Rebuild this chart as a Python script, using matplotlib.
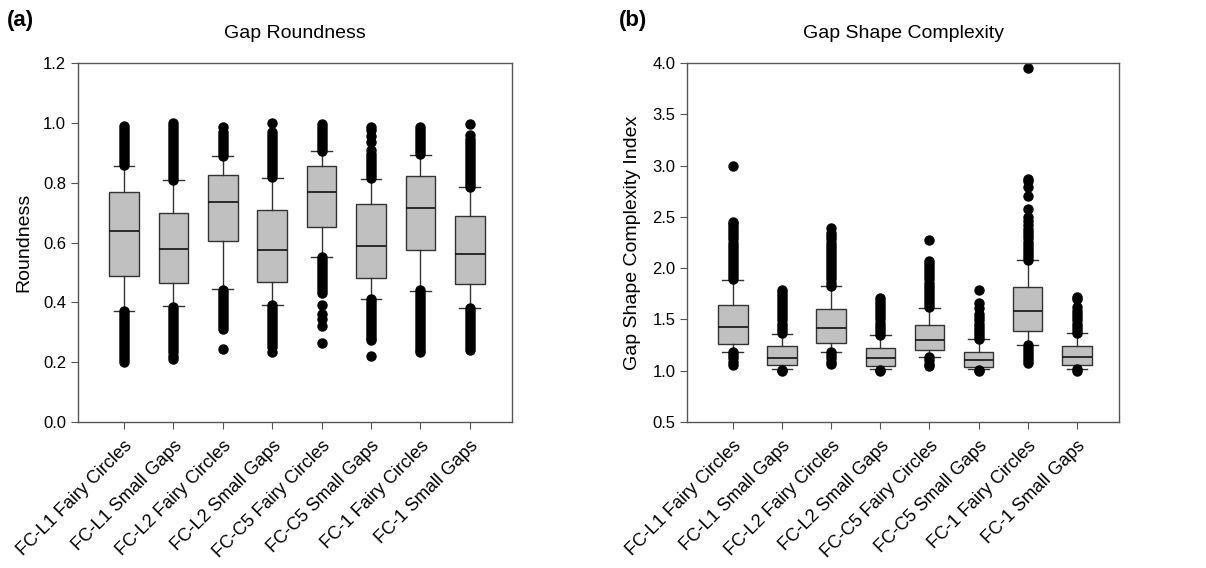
import matplotlib
matplotlib.use("Agg")
import matplotlib.pyplot as plt

plt.rcParams['font.family'] = ['Liberation Sans', 'DejaVu Sans']

labels = ["FC-L1 Fairy Circles", "FC-L1 Small Gaps", "FC-L2 Fairy Circles", "FC-L2 Small Gaps",
          "FC-C5 Fairy Circles", "FC-C5 Small Gaps", "FC-1 Fairy Circles", "FC-1 Small Gaps"]

# Gap Roundness: whisker low, Q1, median, Q3, whisker high
round_wlo = [0.372, 0.387, 0.445, 0.391, 0.550, 0.410, 0.439, 0.380]
round_q1 = [0.487, 0.464, 0.605, 0.468, 0.651, 0.481, 0.574, 0.461]
round_med = [0.640, 0.579, 0.735, 0.574, 0.769, 0.590, 0.715, 0.563]
round_q3 = [0.768, 0.699, 0.825, 0.709, 0.855, 0.729, 0.821, 0.689]
round_whi = [0.857, 0.810, 0.890, 0.816, 0.905, 0.813, 0.894, 0.784]
round_fliers = [
    [0.86, 0.87, 0.88, 0.89, 0.90, 0.91, 0.92, 0.93, 0.94, 0.95, 0.96, 0.97, 0.98, 0.99,
     0.37, 0.36, 0.35, 0.34, 0.33, 0.32, 0.31, 0.30, 0.29, 0.28, 0.27, 0.26, 0.25, 0.24, 0.23, 0.22, 0.21, 0.20],
    [0.81, 0.82, 0.83, 0.84, 0.85, 0.86, 0.87, 0.88, 0.89, 0.90, 0.91, 0.92, 0.93, 0.94, 0.95, 0.96, 0.97, 0.98, 0.99, 1.00,
     0.385, 0.375, 0.365, 0.355, 0.345, 0.335, 0.325, 0.315, 0.305, 0.295, 0.285, 0.275, 0.265, 0.255, 0.245, 0.235, 0.22, 0.212],
    [0.89, 0.90, 0.91, 0.92, 0.93, 0.94, 0.95, 0.96, 0.97, 0.985,
     0.44, 0.43, 0.42, 0.41, 0.40, 0.39, 0.38, 0.37, 0.36, 0.35, 0.34, 0.33, 0.32, 0.31, 0.245],
    [0.82, 0.83, 0.84, 0.85, 0.86, 0.87, 0.88, 0.89, 0.90, 0.91, 0.92, 0.93, 0.94, 0.95, 0.96, 0.97, 1.00,
     0.39, 0.38, 0.37, 0.36, 0.35, 0.34, 0.33, 0.32, 0.31, 0.30, 0.29, 0.28, 0.27, 0.26, 0.25, 0.235],
    [0.905, 0.915, 0.925, 0.935, 0.945, 0.955, 0.965, 0.975, 0.985, 0.995,
     0.55, 0.54, 0.53, 0.52, 0.51, 0.50, 0.49, 0.48, 0.47, 0.46, 0.45, 0.44, 0.43, 0.39, 0.36, 0.345, 0.32, 0.265],
    [0.815, 0.825, 0.835, 0.845, 0.855, 0.865, 0.875, 0.885, 0.895, 0.91, 0.935, 0.955, 0.975, 0.985,
     0.41, 0.40, 0.39, 0.38, 0.37, 0.36, 0.35, 0.34, 0.33, 0.32, 0.31, 0.30, 0.29, 0.28, 0.273, 0.222],
    [0.895, 0.905, 0.915, 0.925, 0.935, 0.945, 0.955, 0.965, 0.975, 0.985,
     0.44, 0.43, 0.42, 0.41, 0.40, 0.39, 0.38, 0.37, 0.36, 0.35, 0.34, 0.33, 0.32, 0.31, 0.30, 0.29, 0.28, 0.27, 0.26, 0.25, 0.24, 0.233],
    [0.785, 0.795, 0.805, 0.815, 0.825, 0.835, 0.845, 0.855, 0.865, 0.875, 0.885, 0.895, 0.905, 0.915, 0.925, 0.935, 0.945, 0.96, 0.997,
     0.38, 0.37, 0.36, 0.35, 0.34, 0.33, 0.32, 0.31, 0.30, 0.29, 0.28, 0.27, 0.26, 0.25, 0.242],
]

# Gap Shape Complexity Index
shape_wlo = [1.184, 1.018, 1.184, 1.015, 1.135, 1.015, 1.249, 1.021]
shape_q1 = [1.259, 1.054, 1.275, 1.044, 1.200, 1.034, 1.383, 1.060]
shape_med = [1.429, 1.126, 1.412, 1.126, 1.302, 1.106, 1.578, 1.135]
shape_q3 = [1.640, 1.240, 1.598, 1.217, 1.445, 1.184, 1.816, 1.240]
shape_whi = [1.885, 1.363, 1.826, 1.344, 1.611, 1.305, 2.077, 1.370]
shape_fliers = [
    [1.89, 1.92, 1.95, 1.98, 2.01, 2.04, 2.07, 2.10, 2.13, 2.16, 2.19, 2.22, 2.25, 2.28, 2.31, 2.34, 2.37, 2.40, 2.43, 2.45, 3.00,
     1.18, 1.15, 1.12, 1.09, 1.06],
    [1.37, 1.40, 1.43, 1.46, 1.49, 1.52, 1.55, 1.58, 1.61, 1.64, 1.67, 1.70, 1.73, 1.76, 1.79,
     1.01, 0.995],
    [1.83, 1.86, 1.89, 1.92, 1.95, 1.98, 2.01, 2.04, 2.07, 2.10, 2.13, 2.16, 2.19, 2.22, 2.25, 2.28, 2.31, 2.34, 2.39,
     1.18, 1.15, 1.12, 1.09, 1.07],
    [1.35, 1.38, 1.41, 1.44, 1.47, 1.50, 1.53, 1.56, 1.59, 1.62, 1.65, 1.68, 1.71,
     1.01, 0.995],
    [1.62, 1.65, 1.68, 1.71, 1.74, 1.77, 1.80, 1.83, 1.86, 1.89, 1.92, 1.95, 1.98, 2.01, 2.04, 2.07, 2.27,
     1.13, 1.10, 1.07, 1.05],
    [1.31, 1.34, 1.37, 1.40, 1.43, 1.46, 1.49, 1.52, 1.55, 1.61, 1.66, 1.79,
     1.01, 0.995],
    [2.08, 2.11, 2.14, 2.17, 2.20, 2.23, 2.26, 2.29, 2.32, 2.35, 2.38, 2.42, 2.46, 2.50, 2.58, 2.70, 2.79, 2.85, 2.87, 3.95,
     1.25, 1.22, 1.19, 1.16, 1.13, 1.10, 1.08],
    [1.37, 1.40, 1.43, 1.46, 1.49, 1.52, 1.55, 1.58, 1.62, 1.70, 1.72,
     1.02, 0.995],
]


def make_stats(wlo, q1, med, q3, whi, fliers):
    return [dict(whislo=a, q1=b, med=c, q3=d, whishi=e, fliers=f)
            for a, b, c, d, e, f in zip(wlo, q1, med, q3, whi, fliers)]


fig = plt.figure(figsize=(12.06, 5.68), dpi=100)
ax1 = fig.add_axes([0.0647, 0.257, 0.36, 0.632])
ax2 = fig.add_axes([0.5697, 0.257, 0.3583, 0.632])

line_col = "#333333"
box_kw = dict(
    widths=0.6, capwidths=0.42, patch_artist=True,
    boxprops=dict(facecolor="#c0c0c0", edgecolor=line_col, linewidth=1.0),
    medianprops=dict(color="#111111", linewidth=1.2),
    whiskerprops=dict(color=line_col, linewidth=1.0),
    capprops=dict(color=line_col, linewidth=1.0),
    flierprops=dict(marker="o", markerfacecolor="black", markeredgecolor="black", markersize=6.5, linestyle="none"),
)

ax1.bxp(make_stats(round_wlo, round_q1, round_med, round_q3, round_whi, round_fliers), **box_kw)
ax2.bxp(make_stats(shape_wlo, shape_q1, shape_med, shape_q3, shape_whi, shape_fliers), **box_kw)

ax1.set_ylim(0, 1.2)
ax1.set_yticks([0.0, 0.2, 0.4, 0.6, 0.8, 1.0, 1.2])
ax1.set_ylabel("Roundness", fontsize=14, labelpad=8)
ax1.set_title("Gap Roundness", fontsize=14, pad=18)

ax2.set_ylim(0.5, 4.0)
ax2.set_yticks([0.5, 1.0, 1.5, 2.0, 2.5, 3.0, 3.5, 4.0])
ax2.set_ylabel("Gap Shape Complexity Index", fontsize=14, labelpad=8)
ax2.set_title("Gap Shape Complexity", fontsize=14, pad=18)

for ax in (ax1, ax2):
    ax.set_xlim(0.07, 8.86)
    ax.set_xticks(range(1, 9))
    ax.set_xticklabels(labels, rotation=45, ha="right", rotation_mode="anchor", fontsize=13)
    ax.yaxis.set_major_formatter(matplotlib.ticker.FormatStrFormatter("%.1f"))
    ax.tick_params(axis="y", labelsize=12, length=5, color="#555555")
    ax.tick_params(axis="x", length=5, color="#555555", pad=6)
    for s in ax.spines.values():
        s.set_color("#555555")
        s.set_linewidth(1.0)

fig.text(0.006, 0.955, "(a)", fontsize=16, fontweight="bold")
fig.text(0.513, 0.955, "(b)", fontsize=16, fontweight="bold")

fig.savefig("out.png", dpi=100)
